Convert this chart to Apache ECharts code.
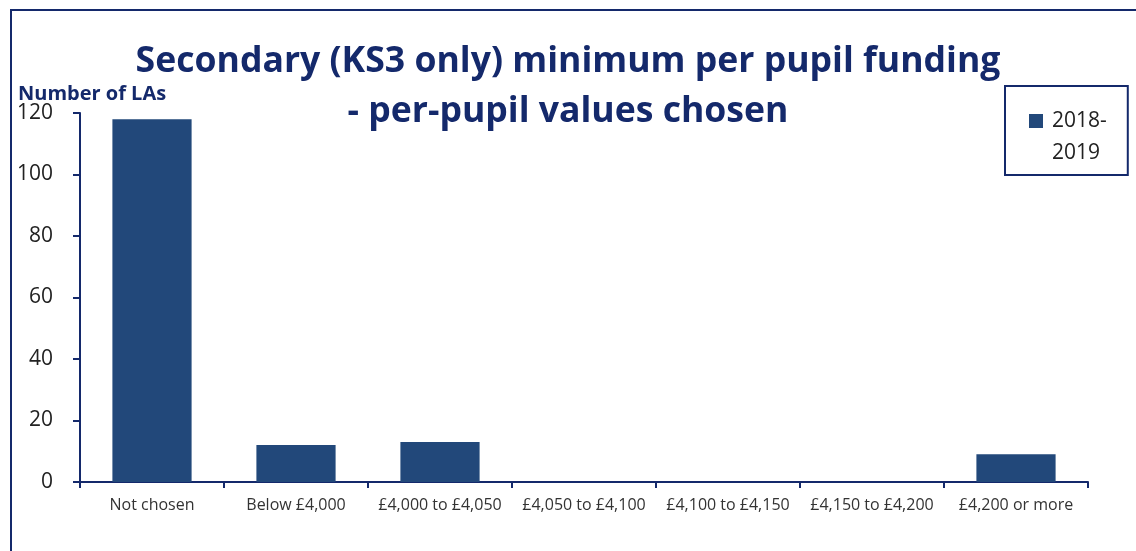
<!DOCTYPE html>
<html>
<head>
  <meta charset="utf-8">
  <title>KS3 minimum per pupil funding</title>
  <script src="https://cdn.jsdelivr.net/npm/echarts@6/dist/echarts.min.js"></script>
  <style>
    html, body { margin: 0; padding: 0; background: #fff; }
    #main { width: 1136px; height: 551px; }
  </style>
</head>
<body>
  <div id="main"></div>
  <script type="text/javascript">
    // data
    var categories = ['Not chosen', 'Below £4,000', '£4,000 to £4,050', '£4,050 to £4,100',
                      '£4,100 to £4,150', '£4,150 to £4,200', '£4,200 or more'];
    var values2018 = [118, 12, 13, 0, 0, 0, 9];
    var seriesName = '2018-2019';
    var yTicks = [0, 20, 40, 60, 80, 100, 120];

    var navy = '#14296b';
    var barColor = '#22487a';
    var font = 'Open Sans';

    var myChart = echarts.init(document.getElementById('main'));
    var option = {
      animation: false,
      textStyle: { fontFamily: font },
      title: [{
        text: 'Secondary (KS3 only) minimum per pupil funding\n- per-pupil values chosen',
        left: 'center',
        top: 32,
        padding: [5, 0, 5, 22],
        textStyle: { fontFamily: font, fontSize: 35.6, fontWeight: 'bold', color: navy, lineHeight: 50 }
      }, {
        // axis title sits above the value axis, left of the plot
        text: 'Number of LAs',
        left: 13,
        top: 79,
        textStyle: { fontFamily: font, fontSize: 20, fontWeight: 'bold', color: navy }
      }],
      legend: {
        left: 1005,
        top: 86,
        orient: 'vertical',
        padding: [19, 21, 6, 24],
        borderColor: navy,
        borderWidth: 2,
        itemWidth: 18,
        itemHeight: 46,
        // square in the top-left of the icon box so it lines up with the first text line
        icon: 'path://M0,0h14v14h-14z M18,46l0,0',
        itemStyle: { borderWidth: 0 },
        formatter: function (name) { return name.replace('-', '-\n'); },
        textStyle: { fontFamily: font, fontSize: 21, color: '#222', lineHeight: 32 },
        data: [seriesName]
      },
      graphic: [{
        type: 'rect',
        shape: { x: 11, y: 10, width: 1300, height: 700 },
        style: { fill: 'none', stroke: navy, lineWidth: 2 },
        silent: true
      }],
      grid: { left: 80, right: 48, top: 113, bottom: 69, containLabel: false },
      xAxis: {
        type: 'category',
        data: categories,
        axisLine: { lineStyle: { color: navy, width: 2 } },
        axisTick: { show: true, length: 6, lineStyle: { color: navy, width: 2 } },
        axisLabel: { color: '#333', fontSize: 16, margin: 15, fontFamily: font, interval: 0 }
      },
      yAxis: {
        type: 'value',
        min: yTicks[0],
        max: yTicks[yTicks.length - 1],
        interval: 20,
        splitLine: { show: false },
        axisLine: { show: true, lineStyle: { color: navy, width: 2 } },
        axisTick: { show: true, length: 7, lineStyle: { color: navy, width: 2 } },
        axisLabel: { color: '#222', fontSize: 21, margin: 27, fontFamily: font }
      },
      series: [{
        name: seriesName,
        type: 'bar',
        data: values2018,
        barWidth: '55%',
        itemStyle: { color: barColor }
      }]
    };
    myChart.setOption(option);
  </script>
</body>
</html>
